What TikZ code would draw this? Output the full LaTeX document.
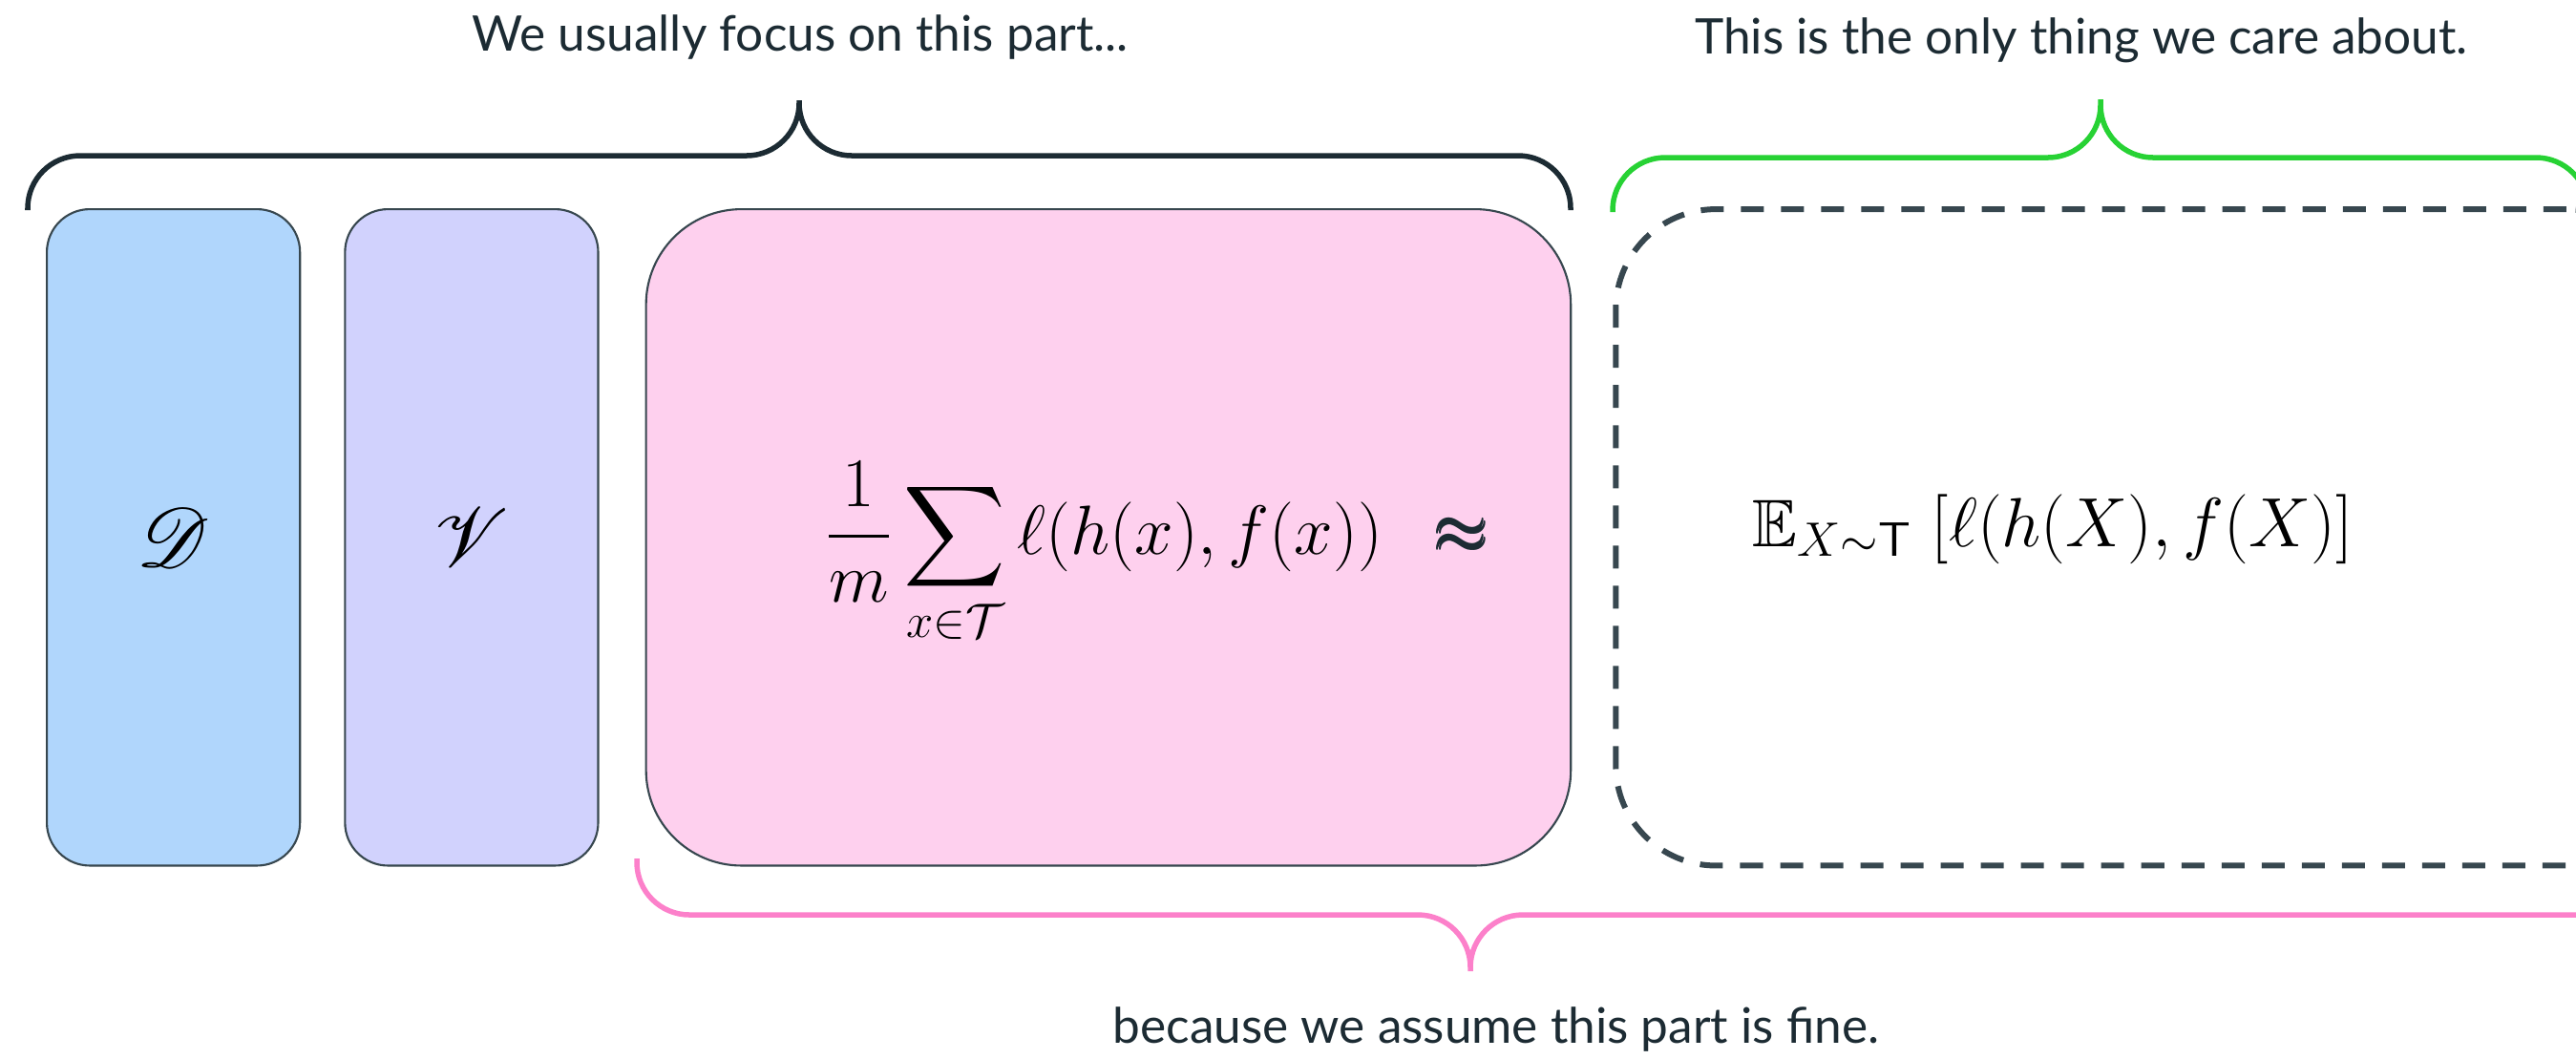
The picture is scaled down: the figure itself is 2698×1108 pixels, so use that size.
\documentclass[tikz,border=0pt]{standalone}
\usepackage[no-math]{fontspec}
\setmainfont{Lato}
\usepackage{amsmath,amssymb,mathrsfs}
\usepackage{tikz}
\usetikzlibrary{positioning}
\definecolor{ink}{HTML}{1C2B33}
\definecolor{slate}{HTML}{37474F}
\definecolor{skyfill}{HTML}{B0D6FC}
\definecolor{lilac}{HTML}{D1D2FD}
\definecolor{blush}{HTML}{FED0EE}
\definecolor{leaf}{HTML}{27D234}
\definecolor{rose}{HTML}{FC80CA}

\begin{document}
\begin{tikzpicture}[x=0.01cm,y=-0.01cm,node distance=0.45cm,
 box/.style={draw=slate,line width=0.6pt,rounded corners=0.45cm,
 minimum width=2.65cm,minimum height=6.87cm,inner sep=0pt,
 font=\fontsize{29}{34}\selectfont},
 widebox/.style={box,rounded corners=1cm,minimum width=9.68cm},
 riskbox/.style={draw=slate,line width=0.06cm,dash pattern=on 0.24cm off 0.18cm,
 rounded corners=1.05cm,minimum width=11cm,minimum height=6.87cm,inner sep=0pt},
 brace/.style={line width=0.055cm,rounded corners=0.55cm},
 caption/.style={text=ink,font=\fontsize{14.6}{17}\selectfont,anchor=base,inner sep=0pt},
 formula/.style={anchor=base,inner sep=0pt,font=\fontsize{20}{24}\selectfont}]
\useasboundingbox (0,0) rectangle (2698,1108);
\clip (0,0) rectangle (2698,1108);
% the four boxes
\node[box,fill=skyfill,anchor=north west] (dset) at (48,218) {$\mathscr{D}$};
\node[box,fill=lilac,right=of dset] (vset) {$\mathscr{V}$};
\node[widebox,fill=blush,right=0.48cm of vset] (emp) {};
\node[riskbox,right=0.43cm of emp] (risk) {};
% formulas
\node[formula,font=\fontsize{21}{25}\selectfont] (sumterm) at (1212,580)
 {$\displaystyle\frac{1}{m}\sum_{x\in\mathcal{T}}\ell(h(x),f(x))\hspace{0.75em}{\color{ink}\pmb{\approx}}$};
\node[formula] (expterm) at (2150,572) {$\mathbb{E}_{X\sim\mathsf{T}}\;[\ell(h(X),f(X)]$};
% braces
\draw[brace,draw=ink] (29,220) |- (837,163) -- (837,105)
 (1645,220) |- (837,163) -- (837,105);
\draw[brace,draw=leaf] (1689,222) |- (2200,165) -- (2200,104)
 (2711,222) |- (2200,165) -- (2200,104);
\draw[brace,draw=rose] (667,899) |- (1540,958) -- (1540,1017)
 (2800,899) |- (1540,958) -- (1540,1017);
% captions
\node[caption] (focus) at (838,53) {We usually focus on this part...};
\node[caption] (care) at (2180,56) {This is the only thing we care about.};
\node[caption] (fine) at (1567,1092) {because we assume this part is fine.};
\end{tikzpicture}
\end{document}
